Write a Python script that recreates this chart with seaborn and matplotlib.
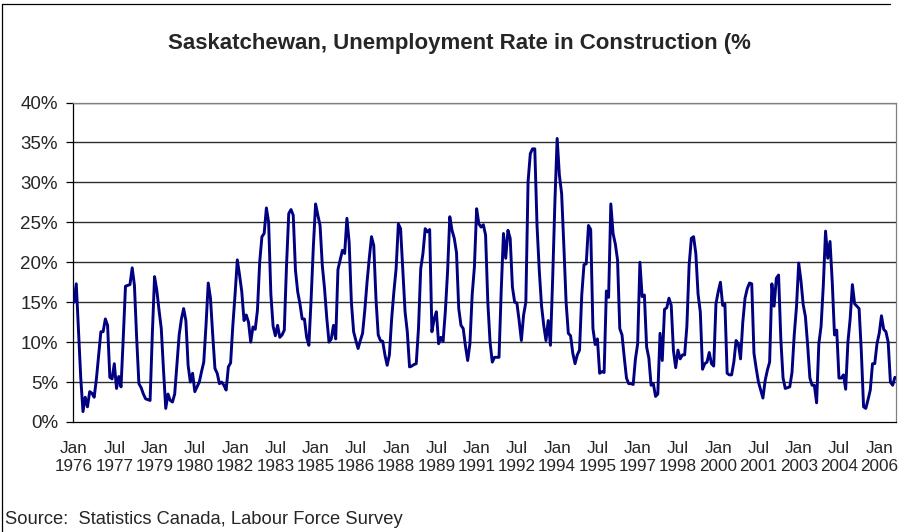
import matplotlib
matplotlib.use("Agg")
import matplotlib.pyplot as plt
from matplotlib.lines import Line2D
import seaborn as sns
import pandas as pd

# ===============================
# data: monthly rate (%), Jan 1976 - Aug 2006
# ===============================

rate = [
    15.0, 17.3, 11.5, 5.5, 1.3, 3.1, 1.9, 3.8, 3.6, 3.1,
    5.4, 8.3, 11.3, 11.3, 12.9, 12.1, 5.6, 5.4, 7.3, 4.2,
    5.7, 4.4, 10.5, 17.0, 17.1, 17.2, 19.3, 17.1, 10.5, 4.8,
    4.3, 3.5, 2.9, 2.8, 2.7, 11.0, 18.2, 16.5, 14.0, 11.7,
    6.5, 1.7, 3.5, 2.7, 2.5, 3.5, 7.2, 10.9, 12.9, 14.2,
    12.7, 7.1, 5.0, 6.1, 3.8, 4.4, 5.0, 6.3, 7.5, 12.1,
    17.4, 15.5, 10.9, 6.7, 6.1, 4.8, 5.0, 4.6, 4.0, 6.9,
    7.4, 12.1, 16.0, 20.3, 18.4, 16.3, 12.7, 13.4, 12.5, 10.0,
    11.9, 11.6, 14.0, 20.0, 23.2, 23.6, 26.8, 25.0, 16.0, 12.0,
    10.8, 12.1, 10.6, 10.9, 11.5, 19.6, 26.1, 26.6, 25.9, 19.0,
    16.3, 14.8, 12.9, 12.9, 10.6, 9.6, 15.4, 22.0, 27.3, 25.9,
    24.6, 19.6, 16.7, 13.0, 10.0, 10.4, 12.1, 10.4, 19.1, 20.3,
    21.5, 21.1, 25.5, 22.5, 15.0, 11.3, 10.2, 9.2, 10.2, 11.1,
    14.0, 17.5, 20.5, 23.2, 22.1, 15.4, 10.9, 10.2, 10.1, 8.4,
    7.1, 8.4, 12.9, 16.3, 19.2, 24.8, 24.2, 19.0, 13.8, 11.3,
    6.9, 7.0, 7.2, 7.3, 11.7, 19.2, 21.1, 24.2, 23.8, 24.1,
    11.3, 12.9, 13.8, 9.8, 10.6, 10.1, 13.8, 18.8, 25.7, 24.0,
    23.0, 21.2, 14.2, 12.1, 11.7, 9.5, 7.7, 9.8, 15.9, 19.4,
    26.7, 24.8, 24.4, 24.7, 23.4, 15.0, 10.0, 7.5, 8.1, 8.1,
    8.1, 16.5, 23.6, 20.5, 24.0, 23.0, 16.9, 15.0, 14.9, 12.7,
    10.2, 13.4, 15.0, 30.1, 33.6, 34.2, 34.2, 24.6, 19.0, 14.6,
    12.1, 10.2, 12.7, 9.6, 18.0, 27.6, 35.5, 30.9, 28.6, 22.0,
    15.0, 11.1, 10.8, 8.6, 7.3, 8.4, 9.0, 15.9, 19.7, 19.8,
    24.6, 24.1, 11.7, 9.7, 10.4, 6.1, 6.3, 6.2, 16.4, 15.6,
    27.3, 23.6, 22.3, 20.3, 11.7, 10.9, 8.1, 5.5, 4.8, 4.8,
    4.7, 7.9, 9.8, 20.0, 15.7, 15.9, 9.4, 8.0, 4.6, 4.8,
    3.2, 3.5, 11.1, 7.7, 14.1, 14.3, 15.5, 14.6, 8.9, 6.8,
    9.0, 7.9, 8.4, 8.4, 12.0, 19.6, 23.0, 23.2, 21.1, 16.0,
    13.8, 6.6, 7.3, 7.5, 8.7, 7.3, 7.0, 14.8, 16.3, 17.5,
    14.6, 14.8, 6.1, 5.9, 5.9, 7.5, 10.2, 9.8, 7.9, 12.5,
    15.5, 16.7, 17.4, 17.3, 8.6, 6.7, 5.0, 4.0, 3.0, 5.2,
    6.5, 7.5, 17.3, 14.5, 18.0, 18.4, 10.4, 5.5, 4.2, 4.3,
    4.4, 6.2, 10.9, 14.4, 19.9, 17.7, 14.7, 13.2, 9.6, 5.5,
    4.6, 4.6, 2.4, 9.8, 12.0, 17.1, 23.9, 20.5, 22.6, 17.5,
    10.9, 11.5, 5.5, 5.5, 5.9, 4.1, 10.0, 12.9, 17.2, 14.8,
    14.5, 14.2, 8.8, 1.9, 1.7, 2.8, 4.0, 7.3, 7.3, 9.8,
    11.1, 13.3, 11.6, 11.3, 10.0, 5.0, 4.6, 5.6,
]

tick_labels = [
    "Jan\n1976", "Jul\n1977", "Jan\n1979", "Jul\n1980", "Jan\n1982",
    "Jul\n1983", "Jan\n1985", "Jul\n1986", "Jan\n1988", "Jul\n1989",
    "Jan\n1991", "Jul\n1992", "Jan\n1994", "Jul\n1995", "Jan\n1997",
    "Jul\n1998", "Jan\n2000", "Jul\n2001", "Jan\n2003", "Jul\n2004",
    "Jan\n2006",
]
y_ticks = [0, 5, 10, 15, 20, 25, 30, 35, 40]
y_labels = ["0%", "5%", "10%", "15%", "20%", "25%", "30%", "35%", "40%"]

title = "Saskatchewan, Unemployment Rate in Construction (%"
source = "Source:  Statistics Canada, Labour Force Survey"

df = pd.DataFrame({"month": range(len(rate)), "rate": rate})

# ===============================
# style
# ===============================

sns.set_style("white")
plt.rcParams["font.family"] = ["Liberation Sans", "DejaVu Sans"]

W, H = 898, 532
fig = plt.figure(figsize=(W / 100, H / 100), dpi=100)
ax = fig.add_axes([72.7 / W, 1 - 422 / H, (896 - 72.7) / W, (422 - 102.5) / H])

for y in y_ticks[1:]:
    ax.axhline(y, color="#2e2e2e", lw=1.0, zorder=1)

sns.lineplot(data=df, x="month", y="rate", color="#000080", lw=2.1, ax=ax, zorder=3)

ax.set_xlim(-0.6, len(rate) - 0.5)
ax.set_ylim(0, 40)
ax.set_xticks(range(0, len(rate), 18))
ax.set_xticklabels(tick_labels, fontsize=12.3, linespacing=1.2)
ax.set_yticks(y_ticks)
ax.set_yticklabels(y_labels, fontsize=13.5)
ax.tick_params(axis="x", length=0, pad=14)
ax.tick_params(axis="y", length=5, width=0.9, color="black", pad=5.5, left=True)
ax.set_xlabel("")
ax.set_ylabel("")

for s in ["left", "bottom"]:
    ax.spines[s].set_color("black")
    ax.spines[s].set_linewidth(0.9)
for s in ["top", "right"]:
    ax.spines[s].set_color("#808080")
    ax.spines[s].set_linewidth(0.9)

fig.text(459 / W, 1 - 43 / H, title, ha="center", va="center",
         fontsize=16, fontweight="bold")
fig.text(5 / W, 1 - 520 / H, source, ha="left", va="center", fontsize=13.2)

# outer chart frame (cropped on the right and bottom)
fig.add_artist(Line2D([1.5 / W, 1.5 / W], [0, 1 - 4 / H], transform=fig.transFigure,
                      color="black", lw=0.9))
fig.add_artist(Line2D([1.5 / W, 890 / W], [1 - 4 / H, 1 - 4 / H], transform=fig.transFigure,
                      color="black", lw=0.9))

fig.savefig("out.png", dpi=100)
